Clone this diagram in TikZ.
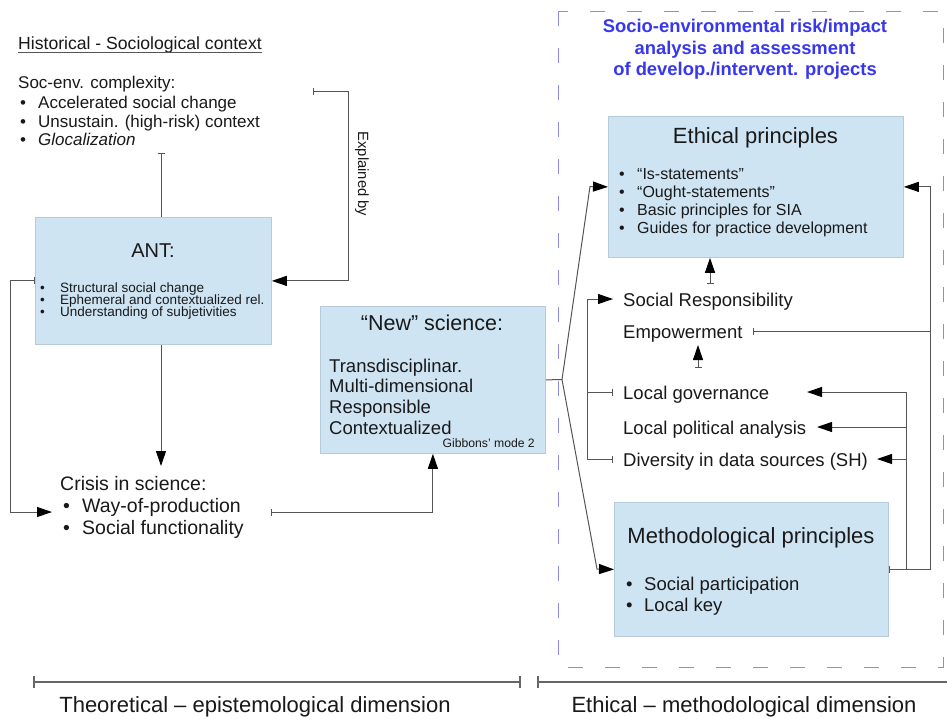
\documentclass[tikz,border=0pt]{standalone}
\usepackage{fontspec}
\setmainfont{Liberation Sans}
\usetikzlibrary{arrows.meta}
\definecolor{boxfill}{RGB}{207,228,243}
\definecolor{boxline}{RGB}{182,202,218}
\definecolor{lgray}{RGB}{85,85,85}
\definecolor{ttlblue}{RGB}{55,55,240}
\definecolor{dashcol}{RGB}{140,140,230}
\definecolor{txtcol}{RGB}{25,25,25}
\newcommand{\fsz}[1]{\fontsize{#1}{#1}\selectfont}
\tikzset{
  tk/.tip={Bar[width=7pt,line width=1pt]},
  tr/.tip={Triangle[length=15pt,width=10pt,color=black]},
  box/.style={draw=boxline, fill=boxfill, line width=0.8pt, anchor=north west, inner sep=0pt},
  txt/.style={anchor=base west, inner sep=0pt, text=txtcol},
  ctxt/.style={anchor=base, inner sep=0pt, text=txtcol},
  conn/.style={draw=lgray, line width=1pt},
  dimline/.style={draw=lgray!90, line width=1.6pt},
}
\begin{document}
\begin{tikzpicture}[x=1pt,y=-1pt]
\useasboundingbox[fill=white] (0,0) rectangle (947,718);

% dashed frame
\draw[dashcol, line width=1pt, dash pattern=on 15pt off 22pt] (558,11) rectangle (943,667);

% blue title
\node[ctxt, text=ttlblue, font=\bfseries\fsz{18.4}] (t1) at (745,32) {Socio-environmental risk/impact};
\node[ctxt, text=ttlblue, font=\bfseries\fsz{18.4}] (t2) at (745,54) {analysis and assessment};
\node[ctxt, text=ttlblue, font=\bfseries\fsz{18.4}] (t3) at (745,75) {of develop./intervent. projects};

% boxes
\node[box, minimum width=236pt, minimum height=127pt] (ant) at (35,217) {};
\node[box, minimum width=225pt, minimum height=147pt] (newsci) at (320,306) {};
\node[box, minimum width=295pt, minimum height=141pt] (ethic) at (608,116) {};
\node[box, minimum width=274pt, minimum height=134pt] (method) at (614,502) {};

% historical context
\node[txt, font=\fsz{17.6}] (hist) at (18,49) {Historical - Sociological context};
\draw[lgray, line width=0.8pt] ([yshift=-3pt]hist.base west) -- ([yshift=-3pt]hist.base east);

\node[txt, font=\fsz{17}] (soc) at (18,88) {Soc-env. complexity:};
\node[txt, font=\fsz{17}] (soc1) at (20,108) {\makebox[18pt][l]{•}Accelerated social change};
\node[txt, font=\fsz{17}] (soc2) at (20,127) {\makebox[18pt][l]{•}Unsustain. (high-risk) context};
\node[txt, font=\fsz{17}] (soc3) at (20,145) {\makebox[18pt][l]{•}\itshape Glocalization};

% ANT
\node[ctxt, font=\fsz{20}] (anth) at (153,257) {ANT:};
\node[txt, font=\fsz{13.5}] (ant1) at (40,292) {\makebox[20pt][l]{•}Structural social change};
\node[txt, font=\fsz{13.5}] (ant2) at (40,304) {\makebox[20pt][l]{•}Ephemeral and contextualized rel.};
\node[txt, font=\fsz{13.5}] (ant3) at (40,316) {\makebox[20pt][l]{•}Understanding of subjetivities};

\node[font=\fsz{14.8}, rotate=-90, inner sep=0pt, text=txtcol] (expl) at (362,174) {Explained by};

% crisis
\node[txt, font=\fsz{19.5}] (cris) at (60,490) {Crisis in science:};
\node[txt, font=\fsz{19.5}] (cris1) at (63,512) {\makebox[19pt][l]{•}Way-of-production};
\node[txt, font=\fsz{19.5}] (cris2) at (63,534) {\makebox[19pt][l]{•}Social functionality};

% new science
\node[ctxt, font=\fsz{21.5}] (nsh) at (432,330) {“New” science:};
\node[txt, font=\fsz{18.5}] (ns1) at (329,372) {Transdisciplinar.};
\node[txt, font=\fsz{18.5}] (ns2) at (329,392) {Multi-dimensional};
\node[txt, font=\fsz{18.5}] (ns3) at (329,413) {Responsible};
\node[txt, font=\fsz{18.5}] (ns4) at (329,434) {Contextualized};
\node[anchor=base east, inner sep=0pt, text=txtcol, font=\fsz{12.2}] (gib) at (535,447) {Gibbons' mode 2};

% ethical principles
\node[ctxt, font=\fsz{22}] (eth) at (755.5,143) {Ethical principles};
\node[txt, font=\fsz{16}] (eth1) at (619,179) {\makebox[18pt][l]{•}“Is-statements”};
\node[txt, font=\fsz{16}] (eth2) at (619,197) {\makebox[18pt][l]{•}“Ought-statements”};
\node[txt, font=\fsz{16}] (eth3) at (619,215) {\makebox[18pt][l]{•}Basic principles for SIA};
\node[txt, font=\fsz{16}] (eth4) at (619,233) {\makebox[18pt][l]{•}Guides for practice development};

% middle list
\node[txt, font=\fsz{18.5}] (sr) at (623,306) {Social Responsibility};
\node[txt, font=\fsz{18.5}] (emp) at (623,338) {Empowerment};
\node[txt, font=\fsz{18.5}] (lg) at (623,399) {Local governance};
\node[txt, font=\fsz{18.5}] (lpa) at (623,434) {Local political analysis};
\node[txt, font=\fsz{18.5}] (div) at (623,466) {Diversity in data sources (SH)};

% methodological
\node[ctxt, font=\fsz{22}] (meth) at (751,543) {Methodological principles};
\node[txt, font=\fsz{18.5}] (meth1) at (626,590) {\makebox[18pt][l]{•}Social participation};
\node[txt, font=\fsz{18.5}] (meth2) at (626,611) {\makebox[18pt][l]{•}Local key};

% bottom dimensions
\draw[dimline, {Bar[width=12pt]}-{Bar[width=12pt]}] (33,682) -- (521,682);
\draw[dimline, {Bar[width=12pt]}-] (537,682) -- (947,682);
\node[ctxt, font=\fsz{22}] (dimL) at (255,712) {Theoretical – epistemological dimension};
\node[ctxt, font=\fsz{22}] (dimR) at (744,712) {Ethical – methodological dimension};

% ---------- connectors ----------
\coordinate (socend) at (161,153);
\draw[conn, tk-] (socend) -- (socend |- ant.north);

\coordinate (explA) at (313,91);
\coordinate (explB) at (348,91);
\draw[conn, tk-tr] (explA) -- (explB) -- (explB |- ant.east) -- (ant.east);

\coordinate (loopL) at (10,300);
\coordinate (crisisin) at (52,512);
\draw[conn, tk-tr] (ant.west) -- (ant.west -| loopL) -- (loopL |- crisisin) -- (crisisin);

\coordinate (crisistop) at (161,466);
\draw[conn, -tr] (ant.south -| crisistop) -- (crisistop);

\coordinate (crisisout) at (271,512);
\draw[conn, tk-tr] (crisisout) -| (newsci.south);

\coordinate (br) at (562,379.5);
\coordinate (bu) at (590,186.5);
\coordinate (bd) at (597,569);
\draw[conn] (newsci.east) -- (br);
\draw[conn, -tr] (br) -- (bu) -- (ethic.west);
\draw[conn, -tr] (br) -- (bd) -- (method.west);

\coordinate (brk) at (587,300);
\coordinate (srin) at ([xshift=-10pt,yshift=7pt]sr.base west);
\coordinate (lgin) at ([xshift=-10pt,yshift=7pt]lg.base west);
\coordinate (divin) at ([xshift=-10pt,yshift=7pt]div.base west);
\draw[conn, tk-tr] (lgin) -- (lgin -| brk) |- (srin);
\draw[conn, tk-] (divin) -- (divin -| brk) -- (lgin -| brk);

\coordinate (lgup) at (698,368);
\coordinate (empdown) at (698,345);
\draw[conn, tk-tr] (lgup) -- (empdown);

\coordinate (empup) at (710,284);
\draw[conn, tk-tr] (empup) -- (empup |- ethic.south);

\coordinate (outer) at (930,300);
\coordinate (empout) at ([xshift=10pt,yshift=7pt]emp.base east);
\draw[conn, tk-] (empout) -- (empout -| outer);
\draw[conn, tk-tr] (method.east) -- (method.east -| outer) |- (ethic.east);

\coordinate (inner) at (906,300);
\coordinate (lgout) at (807,392);
\coordinate (lpaout) at (817,427);
\coordinate (divout) at (877,459);
\draw[conn, -tr] (method.east -| inner) |- (lgout);
\draw[conn, -tr] (inner |- lpaout) -- (lpaout);
\draw[conn, -tr] (inner |- divout) -- (divout);
\end{tikzpicture}
\end{document}
